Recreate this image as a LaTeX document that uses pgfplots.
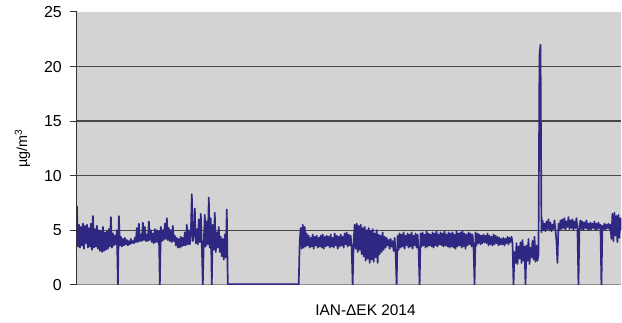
\documentclass[border=0pt]{standalone}
\usepackage{fontspec}
\setmainfont{Liberation Sans}
\usepackage{pgfplots}
\usepackage{pgfplotstable}
\pgfplotsset{compat=1.18}
\definecolor{linecol}{RGB}{46,40,130}
\definecolor{bgcol}{RGB}{211,211,211}
\pgfplotstableread[row sep=\\,header=false]{
7.2\\3.5\\5.5\\3.4\\5.3\\3.6\\5.6\\3.3\\5.4\\3.8\\
5.5\\3.4\\5.2\\3.5\\5.6\\3.2\\6.3\\3.4\\5.1\\3.5\\
5.4\\3.3\\5.0\\3.1\\4.9\\3.0\\5.3\\3.1\\4.8\\3.2\\
4.9\\3.3\\5.1\\3.5\\6.2\\3.4\\4.7\\3.6\\4.5\\3.7\\
5.0\\0.0\\6.3\\3.6\\4.4\\3.5\\4.2\\3.6\\4.3\\3.7\\
4.1\\3.6\\4.0\\3.7\\4.2\\3.8\\4.0\\3.8\\4.3\\3.9\\
5.2\\3.9\\5.6\\4.0\\4.6\\4.0\\5.7\\4.1\\5.3\\4.0\\
4.6\\4.0\\5.8\\4.1\\5.0\\3.9\\4.7\\3.8\\5.1\\3.9\\
5.0\\3.9\\4.9\\0.0\\5.3\\4.0\\5.0\\4.1\\5.6\\4.2\\
6.1\\4.1\\5.2\\4.0\\5.0\\3.9\\5.4\\4.0\\4.5\\3.6\\
4.3\\3.4\\4.2\\3.4\\4.4\\3.5\\4.3\\3.6\\4.8\\3.6\\
5.5\\3.7\\5.0\\3.7\\4.6\\8.3\\4.0\\4.5\\7.0\\3.8\\
5.1\\3.7\\6.0\\3.9\\6.5\\3.6\\0.0\\4.0\\6.4\\3.5\\
5.8\\3.7\\8.0\\3.4\\6.1\\0.0\\5.5\\3.2\\6.6\\3.0\\
4.8\\3.4\\5.3\\3.0\\4.4\\2.6\\4.2\\2.3\\4.6\\2.5\\
6.9\\
0.05\\0.05\\0.05\\0.05\\0.05\\0.05\\0.05\\0.05\\0.05\\0.05\\
0.05\\0.05\\0.05\\0.05\\0.05\\0.05\\0.05\\0.05\\0.05\\0.05\\
0.05\\0.05\\0.05\\0.05\\0.05\\0.05\\0.05\\0.05\\0.05\\0.05\\
0.05\\0.05\\0.05\\0.05\\0.05\\0.05\\0.05\\0.05\\0.05\\0.05\\
0.05\\0.05\\0.05\\0.05\\0.05\\0.05\\0.05\\0.05\\0.05\\0.05\\
0.05\\0.05\\0.05\\0.05\\0.05\\0.05\\0.05\\0.05\\0.05\\0.05\\
0.05\\0.05\\0.05\\0.05\\0.05\\0.05\\0.05\\0.05\\0.05\\0.05\\
0.05\\0.05\\
4.0\\5.2\\3.3\\5.5\\3.4\\5.3\\3.5\\4.7\\3.6\\4.5\\
3.4\\4.3\\3.5\\4.6\\3.3\\4.4\\3.6\\4.5\\3.4\\4.3\\
3.5\\4.5\\3.4\\4.6\\3.3\\4.4\\3.5\\4.5\\3.6\\4.4\\
3.4\\4.6\\3.5\\4.3\\3.4\\4.7\\3.6\\4.5\\3.3\\4.4\\
3.5\\4.6\\3.6\\4.4\\3.4\\4.7\\3.7\\4.8\\3.5\\4.6\\
3.6\\4.5\\3.4\\0.0\\
4.0\\5.5\\3.3\\5.6\\3.0\\5.4\\3.2\\5.5\\2.8\\5.2\\
2.6\\5.3\\2.2\\5.0\\2.4\\5.2\\2.0\\4.9\\2.3\\5.1\\
2.1\\4.7\\2.5\\5.0\\2.0\\4.6\\2.8\\4.5\\3.0\\4.8\\
3.2\\4.4\\3.4\\4.3\\3.6\\4.1\\3.3\\4.2\\3.5\\4.0\\
3.1\\4.3\\2.9\\0.0\\
4.5\\3.2\\4.7\\3.4\\4.6\\3.5\\4.8\\3.3\\4.5\\3.6\\
4.7\\3.4\\4.6\\3.5\\4.8\\3.3\\4.5\\3.6\\4.7\\3.4\\
4.6\\3.2\\0.0\\
4.7\\3.5\\4.8\\3.6\\4.6\\3.4\\4.9\\3.5\\4.7\\3.6\\
4.6\\3.5\\4.8\\3.4\\4.7\\3.6\\4.9\\3.5\\4.6\\3.7\\
4.8\\3.6\\4.7\\3.5\\4.9\\3.6\\4.6\\3.5\\4.8\\3.4\\
4.7\\3.5\\4.8\\3.4\\4.6\\3.3\\4.9\\3.5\\4.7\\3.6\\
4.8\\3.4\\4.9\\3.5\\4.7\\3.3\\4.6\\3.6\\4.8\\3.7\\
4.7\\3.5\\4.6\\3.4\\0.0\\
4.8\\3.6\\4.7\\3.8\\4.6\\3.7\\4.5\\3.8\\4.6\\3.9\\
4.5\\3.8\\4.7\\3.6\\4.5\\3.7\\4.4\\3.6\\4.6\\3.7\\
4.5\\3.8\\4.4\\3.6\\4.3\\3.7\\4.2\\3.7\\4.3\\3.6\\
4.2\\3.8\\4.4\\3.7\\4.3\\3.9\\4.4\\3.8\\
0.0\\
3.0\\2.0\\3.8\\1.9\\3.5\\2.4\\3.9\\2.0\\4.1\\2.2\\
3.5\\0.0\\
3.6\\2.2\\4.2\\1.9\\3.4\\2.5\\4.0\\2.3\\4.4\\2.1\\
3.6\\2.2\\2.8\\
21.0\\22.0\\
4.8\\5.9\\5.0\\5.6\\4.9\\5.8\\5.1\\6.0\\5.0\\5.7\\
4.9\\5.5\\5.1\\5.9\\5.0\\4.0\\2.0\\5.6\\5.0\\5.9\\
5.1\\6.0\\5.2\\6.1\\5.0\\5.8\\5.3\\6.2\\5.1\\5.9\\
5.2\\6.0\\5.0\\5.8\\5.2\\6.1\\5.1\\0.0\\5.3\\5.9\\
5.1\\5.8\\5.0\\5.7\\5.2\\5.9\\5.1\\5.6\\5.0\\5.7\\
5.1\\5.6\\5.2\\5.8\\5.0\\5.6\\5.1\\5.7\\5.2\\5.5\\
0.0\\5.4\\5.1\\5.6\\5.0\\5.5\\5.2\\5.6\\5.1\\5.5\\
4.2\\6.5\\4.0\\6.6\\4.5\\6.3\\3.9\\6.4\\4.3\\6.1\\
5.0\\
}\datatable
\begin{document}
\begin{tikzpicture}
\begin{axis}[
  scale only axis,
  width=545bp, height=273bp,
  xmin=0, xmax=545, ymin=0, ymax=25,
  axis background/.style={fill=bgcol},
  axis x line*=bottom, axis y line*=left,
  x axis line style={draw=black!45, line width=1bp, -},
  y axis line style={draw=black!80, line width=1bp, -},
  xtick=\empty,
  ytick={0,5,10,15,20,25},
  tick align=outside,
  major tick length=7bp,
  tick style={black!80, line width=1bp},
  extra y ticks={5,10,15,20},
  extra y tick labels={},
  extra y tick style={grid=major, major tick length=0pt},
  grid style={black!72, line width=1.2bp},
  /pgf/number format/assume math mode=true,
  yticklabel style={font=\fontsize{16}{18}\selectfont, inner sep=0pt, xshift=-8bp},
  ylabel={µg/m\textsuperscript{3}},
  ylabel style={font=\fontsize{14.5}{16}\selectfont, at={(axis description cs:-0.1,0.5)}, anchor=center},
  xlabel={ΙΑΝ-ΔΕΚ 2014},
  xlabel style={font=\fontsize{15.5}{17}\selectfont, at={(axis description cs:0.53,-0.095)}, anchor=center},
]
\addplot[linecol, line width=1.7bp, line join=round] table[x expr=\coordindex, y index=0] {\datatable};
\end{axis}
\path ([shift={(-77bp,-38bp)}]current axis.south west) rectangle ([shift={(0bp,12bp)}]current axis.north east);
\end{tikzpicture}
\end{document}
